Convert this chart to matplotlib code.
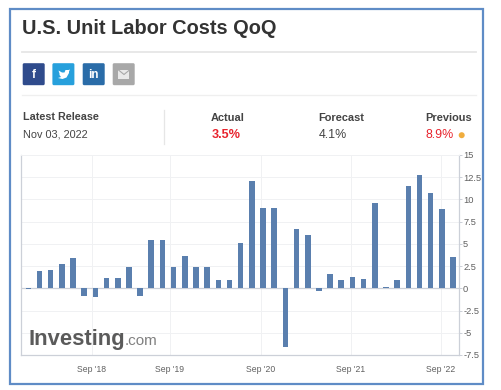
#!/usr/bin/env python3

import numpy as np
import matplotlib
matplotlib.use("Agg")
import matplotlib.pyplot as plt
from matplotlib.patches import Rectangle, FancyBboxPatch, Circle, Polygon

plt.rcParams["font.family"] = ["Liberation Sans", "DejaVu Sans"]

# ----------------------------------------------------------
# data
# ----------------------------------------------------------

values = [
    -0.1, 2.0, 2.1, 2.7, 3.4, -0.9, -1.0, 1.2, 1.2, 2.4,
    -0.9, 5.4, 5.4, 2.4, 3.6, 2.4, 2.4, 0.9, 0.9, 5.1,
    12.1, 9.0, 9.0, -6.6, 6.7, 6.0, -0.3, 1.6, 0.9, 1.3,
    1.0, 9.6, 0.2, 0.9, 11.5, 12.7, 10.7, 8.9, 3.5,
]

x_ticks = [5.67, 12.67, 20.8, 28.85, 36.9]
x_labels = ["Sep '18", "Sep '19", "Sep '20", "Sep '21", "Sep '22"]

y_ticks = [-7.5, -5, -2.5, 0, 2.5, 5, 7.5, 10, 12.5, 15]
y_labels = ["-7.5", "-5", "-2.5", "0", "2.5", "5", "7.5", "10", "12.5", "15"]

W = 502
H = 390

TXT = "#333333"
GRID = "#f0f1f3"
AXIS = "#ccd0d8"
BAR = "#5a7fae"
RED = "#e8232d"

fig = plt.figure(figsize=(W/100, H/100), dpi=100, facecolor="white")

# ----------------------------------------------------------
# page furniture, in pixels
# ----------------------------------------------------------

bg = fig.add_axes([0, 0, 1, 1])
bg.set_xlim(0, W)
bg.set_ylim(H, 0)
bg.axis("off")

# blue frame
bg.add_patch(Rectangle((10, 8.5), 473.5, 375.8, fill=False, ec="#5f8cc6", lw=1.6))

# title and separators
bg.text(22, 28.5, "U.S. Unit Labor Costs QoQ", fontsize=14.4, fontweight="bold",
        color=TXT, va="center", ha="left")
bg.plot([22, 476], [51.8, 51.8], color="#e6e6e6", lw=1.3)
bg.plot([22, 476], [95.4, 95.4], color="#efefef", lw=0.9)
bg.plot([164, 164], [110, 144], color="#e6e6e6", lw=0.9)

# share buttons
buttons = [
    (22.7, "#2f4b8c", "f"),
    (52.4, "#27a0dc", ""),
    (82.7, "#2a6ca8", "in"),
    (112.7, "#a8a8a8", ""),
]
for bx, col, glyph in buttons:
    bg.add_patch(FancyBboxPatch((bx, 63.2), 22, 22, boxstyle="round,pad=0,rounding_size=1.5",
                                fc=col, ec="none"))
    if glyph:
        bg.text(bx + 11, 74.5, glyph, color="white", fontsize=8.5, fontweight="bold",
                ha="center", va="center")

# bird on the twitter button
bg.add_patch(Polygon([(58.5, 70.5), (62, 72.5), (64.5, 72.5), (65.5, 70), (68.5, 70),
                      (70, 69.5), (69, 71.5), (69, 73), (66.5, 77.5), (62.5, 79), (58, 78),
                      (61, 77), (59.5, 75), (59.5, 73.5)], fc="white", ec="none"))

# envelope on the grey button
bg.add_patch(Rectangle((118.5, 69.5), 11, 9, fc="#e9e9e9", ec="none"))
bg.plot([118.5, 124, 129.5], [70, 74.5, 70], color="#a8a8a8", lw=0.8)

# release row
bg.text(23, 117.5, "Latest Release", fontsize=7.75, fontweight="bold", color="#444444", va="center")
bg.text(23, 134.8, "Nov 03, 2022", fontsize=7.8, color="#444444", va="center")
bg.text(211, 117.8, "Actual", fontsize=7.9, fontweight="bold", color="#444444", va="center")
bg.text(211.3, 134.8, "3.5%", fontsize=9.1, fontweight="bold", color=RED, va="center")
bg.text(318.3, 117.8, "Forecast", fontsize=7.9, fontweight="bold", color="#444444", va="center")
bg.text(318.3, 134.8, "4.1%", fontsize=8.9, color="#444444", va="center")
bg.text(425.6, 117.8, "Previous", fontsize=7.9, fontweight="bold", color="#444444", va="center")
bg.text(425.6, 134.8, "8.9%", fontsize=8.9, color=RED, va="center")
bg.add_patch(Circle((461.7, 135.2), 3, fc="#f0ad3e", ec="none"))

# ----------------------------------------------------------
# chart
# ----------------------------------------------------------

L, R, T, B = 21.5, 459.5, 155.0, 355.0

ax = fig.add_axes([L/W, 1 - B/H, (R - L)/W, (B - T)/H], facecolor="none")

xpos = np.arange(len(values))
ax.bar(xpos, values, width=0.5, color=BAR, zorder=3)

# pixel position of first and last bar sets the x scale
step = (453.0 - 28.3)/(len(values) - 1)
ax.set_xlim((L - 28.3)/step, (R - 28.3)/step)
ax.set_ylim(-7.5, 15)

ax.set_yticks(y_ticks)
ax.set_yticklabels(y_labels)
ax.set_xticks(x_ticks)
ax.set_xticklabels(x_labels)

ax.yaxis.tick_right()
ax.tick_params(axis="y", length=2, width=0.7, color=AXIS, labelsize=6.7,
               labelcolor="#606060", pad=0.6)
ax.tick_params(axis="x", length=0, labelsize=6.2, labelcolor="#606060", pad=7.2)

ax.grid(True, color=GRID, lw=0.7, zorder=0)
ax.axhline(0, color=AXIS, lw=0.9, zorder=2)

for side in ["left", "right", "bottom"]:
    ax.spines[side].set_color(AXIS)
    ax.spines[side].set_linewidth(0.9)
ax.spines["top"].set_color(GRID)
ax.spines["top"].set_linewidth(0.7)

# watermark, on top of the grid
fig.text(29/W, 1 - 339/H, "Investing", fontsize=15.8, fontweight="bold", color="#5a5a5a",
         va="center", ha="left")
fig.text(125/W, 1 - 341/H, ".com", fontsize=11, color="#808080", va="center", ha="left")

plt.savefig("out.png", dpi=100)
